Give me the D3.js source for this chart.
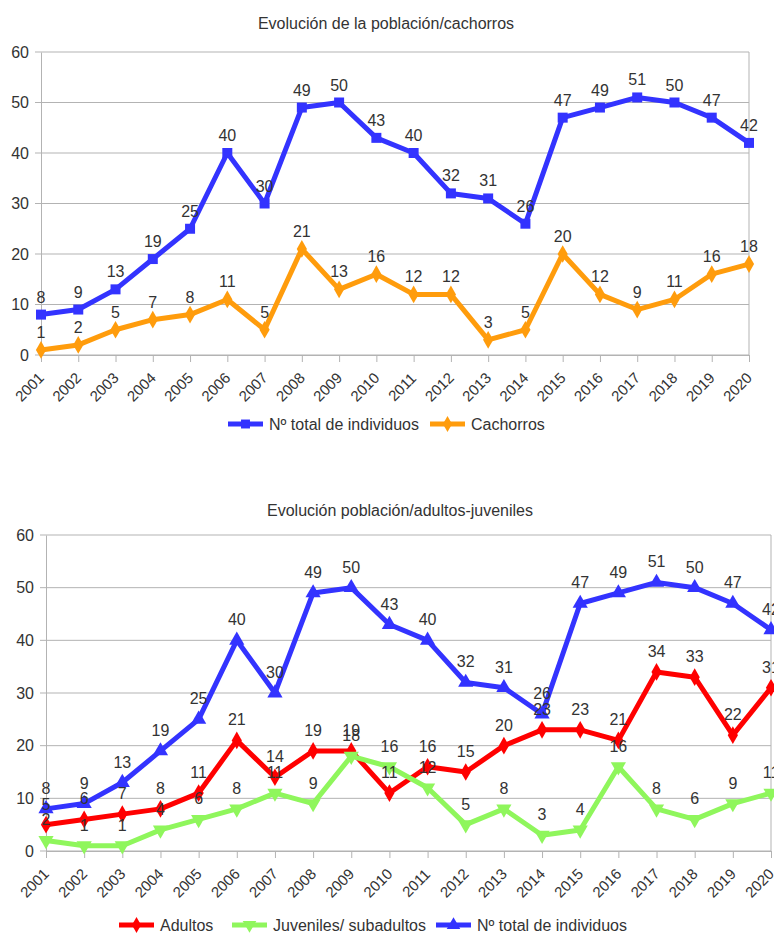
<!DOCTYPE html>
<html>
<head>
<meta charset="utf-8">
<script src="https://cdn.jsdelivr.net/npm/d3@7"></script>
<style>
  body { margin: 0; background: #fff; }
  svg { display: block; font-family: "Liberation Sans", Arial, sans-serif; }
</style>
</head>
<body>
<div id="chart"></div>
<script>
// datos
const years = ["2001","2002","2003","2004","2005","2006","2007","2008","2009","2010",
               "2011","2012","2013","2014","2015","2016","2017","2018","2019","2020"];
const total = [8, 9, 13, 19, 25, 40, 30, 49, 50, 43, 40, 32, 31, 26, 47, 49, 51, 50, 47, 42];
const cachorros = [1, 2, 5, 7, 8, 11, 5, 21, 13, 16, 12, 12, 3, 5, 20, 12, 9, 11, 16, 18];
const adultos = [5, 6, 7, 8, 11, 21, 14, 19, 19, 11, 16, 15, 20, 23, 23, 21, 34, 33, 22, 31];
const juveniles = [2, 1, 1, 4, 6, 8, 11, 9, 18, 16, 12, 5, 8, 3, 4, 16, 8, 6, 9, 11];
const yTicks = [0, 10, 20, 30, 40, 50, 60];

const width = 774;
const height = 934;

const svg = d3.select("#chart").append("svg")
    .attr("width", width)
    .attr("height", height);

const blue = "#3333ff";
const orange = "#ff9c0c";
const red = "#ff0000";
const green = "#8ff65c";

// dibuja un gráfico de líneas
function drawChart(cfg) {
    const g = svg.append("g");

    const x = d3.scalePoint().domain(years).range([cfg.left, cfg.right]).padding(0);
    const y = d3.scaleLinear().domain([0, 60]).range([cfg.bottom, cfg.top]);

    // título
    g.append("text")
        .attr("x", cfg.titleX)
        .attr("y", cfg.titleY)
        .attr("text-anchor", "middle")
        .attr("font-size", 16)
        .attr("fill", "#333")
        .text(cfg.title);

    // rejilla
    g.append("g")
        .selectAll("line")
        .data(yTicks)
        .join("line")
        .attr("x1", cfg.left - 6)
        .attr("x2", cfg.right)
        .attr("y1", d => y(d))
        .attr("y2", d => y(d))
        .attr("stroke", "#b3b3b3")
        .attr("stroke-width", 1);

    // borde derecho
    g.append("line")
        .attr("x1", cfg.right).attr("x2", cfg.right)
        .attr("y1", cfg.top).attr("y2", cfg.bottom)
        .attr("stroke", "#b3b3b3");

    // eje y
    const yAxis = g.append("g")
        .attr("transform", `translate(${cfg.left},0)`)
        .call(d3.axisLeft(y).tickValues(yTicks).tickSize(0).tickPadding(12));
    yAxis.select(".domain").attr("stroke", "#b3b3b3");
    yAxis.selectAll("text").attr("font-size", 16).attr("fill", "#333");

    // eje x
    const xAxis = g.append("g")
        .attr("transform", `translate(0,${cfg.bottom})`)
        .call(d3.axisBottom(x).tickSize(7).tickSizeOuter(0));
    xAxis.select(".domain").attr("stroke", "#b3b3b3");
    xAxis.selectAll(".tick line").attr("stroke", "#b3b3b3");
    xAxis.selectAll("text")
        .attr("font-size", 15)
        .attr("fill", "#333")
        .attr("y", 0)
        .attr("dy", "0.35em")
        .attr("text-anchor", "middle")
        .attr("transform", "translate(-12,32) rotate(-45)");

    const line = d3.line()
        .x((d, i) => x(years[i]))
        .y(d => y(d));

    cfg.series.forEach(s => {
        g.append("path")
            .datum(s.values)
            .attr("d", line)
            .attr("fill", "none")
            .attr("stroke", s.color)
            .attr("stroke-width", 5)
            .attr("stroke-linejoin", "round");

        const sym = d3.symbol().type(s.symbol).size(s.size);
        g.append("g")
            .selectAll("path")
            .data(s.values)
            .join("path")
            .attr("d", sym)
            .attr("fill", s.color)
            .attr("transform", (d, i) =>
                `translate(${x(years[i])},${y(d)})` + (s.flip ? " rotate(180)" : ""));
    });

    // etiquetas de datos
    cfg.series.forEach(s => {
        g.append("g")
            .selectAll("text")
            .data(s.values)
            .join("text")
            .attr("x", (d, i) => x(years[i]))
            .attr("y", d => y(d) - cfg.labelOffset)
            .attr("text-anchor", "middle")
            .attr("font-size", 16)
            .attr("fill", "#333")
            .text(d => d);
    });

    // leyenda
    cfg.series.slice().forEach(s => {
        const lg = g.append("g");
        lg.append("line")
            .attr("x1", s.legendX).attr("x2", s.legendX + 35)
            .attr("y1", cfg.legendY).attr("y2", cfg.legendY)
            .attr("stroke", s.color)
            .attr("stroke-width", 5);
        lg.append("path")
            .attr("d", d3.symbol().type(s.symbol).size(s.size * 0.8))
            .attr("fill", s.color)
            .attr("transform", `translate(${s.legendX + 17.5},${cfg.legendY})` + (s.flip ? " rotate(180)" : ""));
        lg.append("text")
            .attr("x", s.legendX + 41)
            .attr("y", cfg.legendY)
            .attr("dy", "0.35em")
            .attr("font-size", 16)
            .attr("fill", "#333")
            .text(s.name);
    });
}

drawChart({
    title: "Evolución de la población/cachorros",
    titleX: 386, titleY: 29,
    left: 41, right: 749, top: 52, bottom: 355,
    labelOffset: 12,
    legendY: 424,
    series: [
        { name: "Nº total de individuos", values: total, color: blue, symbol: d3.symbolSquare, size: 100, legendX: 228 },
        { name: "Cachorros", values: cachorros, color: orange, symbol: d3.symbolDiamond, size: 90, legendX: 430 }
    ]
});

drawChart({
    title: "Evolución población/adultos-juveniles",
    titleX: 400, titleY: 516,
    left: 46, right: 771, top: 535, bottom: 851,
    labelOffset: 15,
    legendY: 925,
    series: [
        { name: "Adultos", values: adultos, color: red, symbol: d3.symbolDiamond, size: 90, legendX: 119 },
        { name: "Juveniles/ subadultos", values: juveniles, color: green, symbol: d3.symbolTriangle, size: 100, flip: true, legendX: 232 },
        { name: "Nº total de individuos", values: total, color: blue, symbol: d3.symbolTriangle, size: 100, legendX: 436 }
    ]
});
</script>
</body>
</html>
